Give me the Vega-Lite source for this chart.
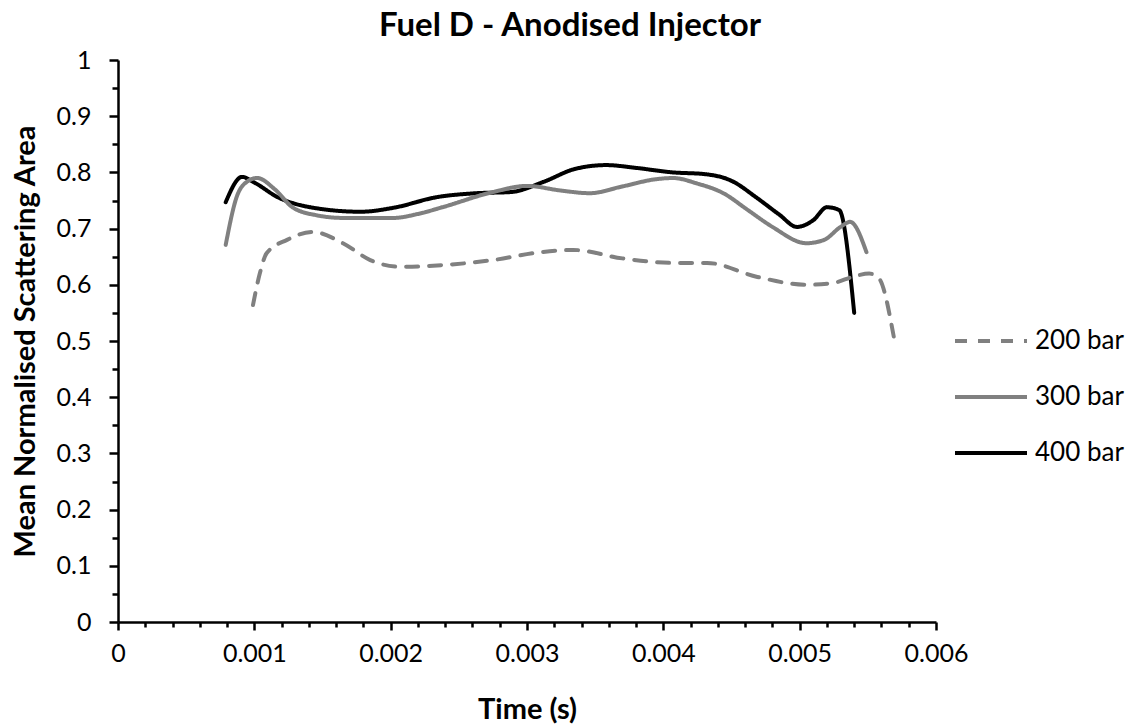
{
  "$schema": "https://vega.github.io/schema/vega-lite/v6.json",
  "width": 818,
  "height": 562,
  "autosize": "none",
  "padding": {"left": 118, "top": 60, "right": 201, "bottom": 106},
  "background": "white",
  "title": {"text": "Fuel D - Anodised Injector", "font": "Lato", "fontSize": 33, "fontWeight": "bold", "color": "#000000", "anchor": "middle", "dx": 43, "offset": 5},
  "config": {"view": {"stroke": null}},
  "data": {"values": [
    {"t": 0.00079, "v": 0.747, "s": "400 bar"},
    {"t": 0.00091, "v": 0.792, "s": "400 bar"},
    {"t": 0.00100, "v": 0.782, "s": "400 bar"},
    {"t": 0.00117, "v": 0.756, "s": "400 bar"},
    {"t": 0.00141, "v": 0.738, "s": "400 bar"},
    {"t": 0.00178, "v": 0.730, "s": "400 bar"},
    {"t": 0.00202, "v": 0.737, "s": "400 bar"},
    {"t": 0.00234, "v": 0.756, "s": "400 bar"},
    {"t": 0.00263, "v": 0.763, "s": "400 bar"},
    {"t": 0.00288, "v": 0.765, "s": "400 bar"},
    {"t": 0.00312, "v": 0.783, "s": "400 bar"},
    {"t": 0.00335, "v": 0.806, "s": "400 bar"},
    {"t": 0.00358, "v": 0.813, "s": "400 bar"},
    {"t": 0.00380, "v": 0.808, "s": "400 bar"},
    {"t": 0.00407, "v": 0.800, "s": "400 bar"},
    {"t": 0.00430, "v": 0.797, "s": "400 bar"},
    {"t": 0.00450, "v": 0.785, "s": "400 bar"},
    {"t": 0.00469, "v": 0.754, "s": "400 bar"},
    {"t": 0.00485, "v": 0.725, "s": "400 bar"},
    {"t": 0.00498, "v": 0.703, "s": "400 bar"},
    {"t": 0.00510, "v": 0.715, "s": "400 bar"},
    {"t": 0.00520, "v": 0.738, "s": "400 bar"},
    {"t": 0.00529, "v": 0.733, "s": "400 bar"},
    {"t": 0.00540, "v": 0.550, "s": "400 bar"},
    {"t": 0.00079, "v": 0.671, "s": "300 bar"},
    {"t": 0.00087, "v": 0.756, "s": "300 bar"},
    {"t": 0.00095, "v": 0.784, "s": "300 bar"},
    {"t": 0.00102, "v": 0.790, "s": "300 bar"},
    {"t": 0.00115, "v": 0.770, "s": "300 bar"},
    {"t": 0.00128, "v": 0.738, "s": "300 bar"},
    {"t": 0.00145, "v": 0.724, "s": "300 bar"},
    {"t": 0.00165, "v": 0.719, "s": "300 bar"},
    {"t": 0.00202, "v": 0.719, "s": "300 bar"},
    {"t": 0.00220, "v": 0.726, "s": "300 bar"},
    {"t": 0.00238, "v": 0.738, "s": "300 bar"},
    {"t": 0.00275, "v": 0.765, "s": "300 bar"},
    {"t": 0.00300, "v": 0.776, "s": "300 bar"},
    {"t": 0.00324, "v": 0.768, "s": "300 bar"},
    {"t": 0.00346, "v": 0.763, "s": "300 bar"},
    {"t": 0.00370, "v": 0.775, "s": "300 bar"},
    {"t": 0.00395, "v": 0.788, "s": "300 bar"},
    {"t": 0.00407, "v": 0.790, "s": "300 bar"},
    {"t": 0.00425, "v": 0.780, "s": "300 bar"},
    {"t": 0.00444, "v": 0.763, "s": "300 bar"},
    {"t": 0.00462, "v": 0.733, "s": "300 bar"},
    {"t": 0.00480, "v": 0.703, "s": "300 bar"},
    {"t": 0.00505, "v": 0.674, "s": "300 bar"},
    {"t": 0.00518, "v": 0.680, "s": "300 bar"},
    {"t": 0.00530, "v": 0.703, "s": "300 bar"},
    {"t": 0.00537, "v": 0.712, "s": "300 bar"},
    {"t": 0.00549, "v": 0.658, "s": "300 bar"},
    {"t": 0.00099, "v": 0.564, "s": "200 bar"},
    {"t": 0.00104, "v": 0.620, "s": "200 bar"},
    {"t": 0.00109, "v": 0.656, "s": "200 bar"},
    {"t": 0.00124, "v": 0.680, "s": "200 bar"},
    {"t": 0.00143, "v": 0.694, "s": "200 bar"},
    {"t": 0.00165, "v": 0.674, "s": "200 bar"},
    {"t": 0.00185, "v": 0.644, "s": "200 bar"},
    {"t": 0.00207, "v": 0.632, "s": "200 bar"},
    {"t": 0.00238, "v": 0.635, "s": "200 bar"},
    {"t": 0.00275, "v": 0.644, "s": "200 bar"},
    {"t": 0.00310, "v": 0.658, "s": "200 bar"},
    {"t": 0.00334, "v": 0.662, "s": "200 bar"},
    {"t": 0.00370, "v": 0.647, "s": "200 bar"},
    {"t": 0.00407, "v": 0.639, "s": "200 bar"},
    {"t": 0.00432, "v": 0.639, "s": "200 bar"},
    {"t": 0.00469, "v": 0.614, "s": "200 bar"},
    {"t": 0.00505, "v": 0.600, "s": "200 bar"},
    {"t": 0.00524, "v": 0.603, "s": "200 bar"},
    {"t": 0.00540, "v": 0.615, "s": "200 bar"},
    {"t": 0.00551, "v": 0.620, "s": "200 bar"},
    {"t": 0.00558, "v": 0.612, "s": "200 bar"},
    {"t": 0.00569, "v": 0.508, "s": "200 bar"}
  ]},
  "mark": {"type": "line", "interpolate": "monotone", "strokeWidth": 4, "strokeCap": "round"},
  "encoding": {
    "x": {
      "field": "t", "type": "quantitative",
      "scale": {"domain": [0, 0.006], "nice": false, "zero": false},
      "axis": {
        "title": "Time (s)",
        "values": [0, 0.0002, 0.0004, 0.0006, 0.0008, 0.001, 0.0012, 0.0014, 0.0016, 0.0018, 0.002, 0.0022, 0.0024, 0.0026, 0.0028, 0.003, 0.0032, 0.0034, 0.0036, 0.0038, 0.004, 0.0042, 0.0044, 0.0046, 0.0048, 0.005, 0.0052, 0.0054, 0.0056, 0.0058, 0.006],
        "labelExpr": "abs(datum.value*1000 - round(datum.value*1000)) < 1e-6 ? (datum.value == 0 ? '0' : format(datum.value, '.3f')) : ''",
        "tickSize": {"condition": {"test": "abs(datum.value*1000 - round(datum.value*1000)) < 1e-6", "value": 8}, "value": 5},
        "grid": false,
        "domainColor": "#000000", "domainWidth": 2.5,
        "tickColor": "#000000", "tickWidth": 2.5,
        "labelFont": "Lato", "labelFontSize": 25, "labelColor": "#000000", "labelPadding": 11,
        "labelFlush": false, "labelOverlap": false,
        "titleFont": "Lato", "titleFontSize": 29, "titleFontWeight": "bold", "titleColor": "#000000", "titlePadding": 29
      }
    },
    "y": {
      "field": "v", "type": "quantitative",
      "scale": {"domain": [0, 1], "nice": false},
      "axis": {
        "title": "Mean Normalised Scattering Area",
        "values": [0, 0.05, 0.1, 0.15, 0.2, 0.25, 0.3, 0.35, 0.4, 0.45, 0.5, 0.55, 0.6, 0.65, 0.7, 0.75, 0.8, 0.85, 0.9, 0.95, 1],
        "labelExpr": "abs(datum.value*10 - round(datum.value*10)) < 1e-6 ? format(datum.value, '~g') : ''",
        "tickSize": {"condition": {"test": "abs(datum.value*10 - round(datum.value*10)) < 1e-6", "value": 9}, "value": 6},
        "grid": false,
        "domainColor": "#000000", "domainWidth": 2.5,
        "tickColor": "#000000", "tickWidth": 2.5,
        "labelFont": "Lato", "labelFontSize": 25, "labelColor": "#000000", "labelPadding": 18,
        "labelFlush": false, "labelOverlap": false,
        "titleFont": "Lato", "titleFontSize": 29, "titleFontWeight": "bold", "titleColor": "#000000", "titlePadding": 16
      }
    },
    "color": {
      "field": "s", "type": "nominal",
      "scale": {"domain": ["200 bar", "300 bar", "400 bar"], "range": ["#808080", "#808080", "#000000"]},
      "legend": {
        "title": null, "orient": "none", "legendX": 835, "legendY": 269,
        "symbolType": "stroke", "symbolSize": 5184, "symbolStrokeWidth": 4,
        "labelFont": "Lato", "labelFontSize": 26, "labelColor": "#000000", "labelOffset": 6,
        "clipHeight": 24, "rowPadding": 30
      }
    },
    "strokeDash": {
      "field": "s", "type": "nominal",
      "scale": {"domain": ["200 bar", "300 bar", "400 bar"], "range": [[12, 11], [1, 0], [1, 0]]},
      "legend": {
        "title": null, "orient": "none", "legendX": 835, "legendY": 269,
        "symbolType": "stroke", "symbolSize": 5184, "symbolStrokeWidth": 4,
        "labelFont": "Lato", "labelFontSize": 26, "labelColor": "#000000", "labelOffset": 6,
        "clipHeight": 24, "rowPadding": 30
      }
    }
  }
}
